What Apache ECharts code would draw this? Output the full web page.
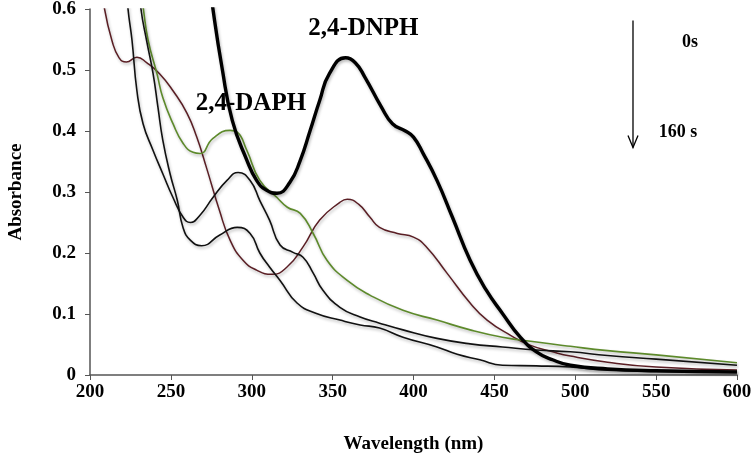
<!DOCTYPE html>
<html lang="en">
<head>
    <meta charset="UTF-8">
    <title>Absorbance</title>
    <script src="https://cdn.jsdelivr.net/npm/echarts@6/dist/echarts.min.js"></script>
    <style>
        html, body {margin: 0; padding: 0; background: #fff;}
        #main {width: 753px; height: 455px;}
    </style>
</head>
<body>
<div id="main"></div>
<script type="text/javascript">
    // wavelength (nm) / absorbance
    var dnphWl  = [270, 276, 281.6, 288, 297, 303, 309, 315.6, 323.6, 330, 336, 342, 348, 358, 364, 370, 380, 387, 395, 400, 406, 414.5, 424, 435, 445, 455, 466, 476, 486, 497, 520, 550, 600];
    var dnphAbs = [0.72, 0.6, 0.504, 0.417, 0.352, 0.319, 0.303, 0.298, 0.316, 0.352, 0.40, 0.45, 0.494, 0.52, 0.512, 0.488, 0.44, 0.412, 0.40, 0.39, 0.363, 0.319, 0.259, 0.188, 0.139, 0.101, 0.062, 0.038, 0.025, 0.016, 0.01, 0.007, 0.005];

    var brownWl  = [205, 209, 213.6, 218, 222.5, 229, 235, 243, 251.3, 260, 266, 272, 280, 286.6, 294.6, 303, 312.5, 321.8, 331.7, 342, 354.5, 359, 366, 373, 379, 390, 400, 408, 420.7, 435, 445.5, 460, 472, 486, 497, 520, 550, 600];
    var brownAbs = [0.68, 0.6, 0.548, 0.52, 0.513, 0.521, 0.512, 0.494, 0.466, 0.429, 0.39, 0.34, 0.27, 0.221, 0.188, 0.172, 0.165, 0.177, 0.21, 0.254, 0.283, 0.288, 0.28, 0.259, 0.242, 0.232, 0.226, 0.21, 0.167, 0.118, 0.09, 0.065, 0.049, 0.038, 0.031, 0.021, 0.013, 0.008];

    var greenWl  = [230, 233, 236, 241.4, 245, 251.3, 257.5, 263.7, 268, 276, 286.6, 291, 297, 305, 315.6, 322, 330, 338, 346.5, 359, 373, 393.5, 414.5, 435, 455, 476, 497, 520, 550, 600];
    var greenAbs = [0.66, 0.6, 0.548, 0.494, 0.455, 0.412, 0.38, 0.365, 0.363, 0.388, 0.401, 0.398, 0.368, 0.319, 0.291, 0.275, 0.265, 0.232, 0.188, 0.155, 0.131, 0.106, 0.09, 0.074, 0.062, 0.054, 0.047, 0.04, 0.033, 0.02];

    var blackAWl  = [221, 223.5, 226, 229, 232.8, 239, 245, 251.3, 257.5, 262, 268, 276, 284.7, 291.6, 299, 305, 311, 317.5, 325.5, 331.7, 338, 344, 354.5, 367, 379, 393.5, 414.5, 435, 455, 476, 497, 520, 550, 600];
    var blackAAbs = [0.68, 0.6, 0.548, 0.466, 0.412, 0.368, 0.33, 0.291, 0.259, 0.25, 0.262, 0.291, 0.319, 0.332, 0.319, 0.286, 0.254, 0.213, 0.201, 0.193, 0.167, 0.139, 0.111, 0.095, 0.085, 0.074, 0.06, 0.051, 0.046, 0.041, 0.038, 0.032, 0.026, 0.016];

    var blackBWl  = [229.5, 231.5, 235, 239, 242, 245, 249.5, 254, 257.5, 262, 269, 280, 291, 299, 305, 311, 317.5, 328, 340, 354.5, 367, 379, 393.5, 414.5, 427, 441, 455, 476, 497, 520, 550, 600];
    var blackBAbs = [0.66, 0.6, 0.548, 0.494, 0.439, 0.385, 0.33, 0.286, 0.242, 0.221, 0.212, 0.229, 0.242, 0.232, 0.2, 0.177, 0.155, 0.118, 0.101, 0.09, 0.082, 0.077, 0.062, 0.046, 0.034, 0.025, 0.016, 0.015, 0.013, 0.008, 0.006, 0.005];

    var xTicks = [200, 250, 300, 350, 400, 450, 500, 550, 600];
    var yTicks = [0, 0.1, 0.2, 0.3, 0.4, 0.5, 0.6];

    function pairs(wl, abs) {
        return wl.map(function (w, i) {
            return [w, abs[i]];
        });
    }

    function curve(wl, abs, color, width) {
        return {
            type: 'line',
            data: pairs(wl, abs),
            smooth: 0.5,
            showSymbol: false,
            clip: true,
            lineStyle: {
                color: color,
                width: width,
                shadowColor: 'rgba(0,0,0,0.28)',
                shadowBlur: 3,
                shadowOffsetX: 1,
                shadowOffsetY: 2
            },
            z: width > 2 ? 5 : 3
        };
    }

    var serif = '"Liberation Serif", "Times New Roman", serif';
    var axisColor = '#555';

    var chart = echarts.init(document.getElementById('main'));
    var option = {
        animation: false,
        backgroundColor: '#fff',
        grid: {left: 90, right: 16, top: 9, bottom: 80, containLabel: false, outerBoundsMode: 'none'},
        xAxis: {
            type: 'value',
            min: xTicks[0],
            max: xTicks[xTicks.length - 1],
            interval: 50,
            name: 'Wavelength (nm)',
            nameLocation: 'middle',
            nameGap: 60,
            nameTextStyle: {fontFamily: serif, fontWeight: 'bold', fontSize: 19, color: '#000'},
            axisLine: {lineStyle: {color: axisColor, width: 1.5}},
            axisTick: {length: 5, lineStyle: {color: axisColor}},
            axisLabel: {fontFamily: serif, fontWeight: 'bold', fontSize: 19, color: '#000', margin: 8},
            splitLine: {show: false}
        },
        yAxis: {
            type: 'value',
            min: yTicks[0],
            max: yTicks[yTicks.length - 1],
            interval: 0.1,
            name: 'Absorbance',
            nameLocation: 'middle',
            nameGap: 64,
            nameRotate: 90,
            nameTextStyle: {fontFamily: serif, fontWeight: 'bold', fontSize: 19, color: '#000'},
            axisLine: {show: true, lineStyle: {color: axisColor, width: 1.5}},
            axisTick: {show: true, length: 5, lineStyle: {color: axisColor}},
            axisLabel: {fontFamily: serif, fontWeight: 'bold', fontSize: 19, color: '#000', margin: 14},
            splitLine: {show: false}
        },
        series: [
            curve(brownWl, brownAbs, '#5a1e24', 1.5),
            curve(greenWl, greenAbs, '#5d8a2b', 1.6),
            curve(blackAWl, blackAAbs, '#111', 1.6),
            curve(blackBWl, blackBAbs, '#111', 1.6),
            curve(dnphWl, dnphAbs, '#000', 3.4)
        ]
    };
    chart.setOption(option);

    // annotations, placed in data coordinates
    function px(p) {
        return chart.convertToPixel({gridIndex: 0}, p);
    }

    function label(text, at, size) {
        var p = px(at);
        return {
            type: 'text',
            z: 10,
            style: {
                text: text, x: p[0], y: p[1],
                font: 'bold ' + size + 'px ' + serif,
                fill: '#000',
                textAlign: 'center', textVerticalAlign: 'middle',
                align: 'center', verticalAlign: 'middle'
            }
        };
    }

    var arrowFrom = px([535.7, 0.581]);
    var arrowTip = px([535.7, 0.373]);
    chart.setOption({
        graphic: [
            label('2,4-DNPH', [369, 0.568], 25),
            label('2,4-DAPH', [299.5, 0.445], 25),
            label('0s', [571, 0.545], 18),
            label('160 s', [563.5, 0.398], 18),
            {
                type: 'line', z: 10,
                shape: {x1: arrowFrom[0], y1: arrowFrom[1], x2: arrowTip[0], y2: arrowTip[1]},
                style: {stroke: '#000', lineWidth: 1.3}
            },
            {
                type: 'polyline', z: 10,
                shape: {points: [[arrowTip[0] - 5, arrowTip[1] - 12], [arrowTip[0], arrowTip[1]], [arrowTip[0] + 5, arrowTip[1] - 12]]},
                style: {stroke: '#000', lineWidth: 1.3, fill: null}
            }
        ]
    });
</script>
</body>
</html>
